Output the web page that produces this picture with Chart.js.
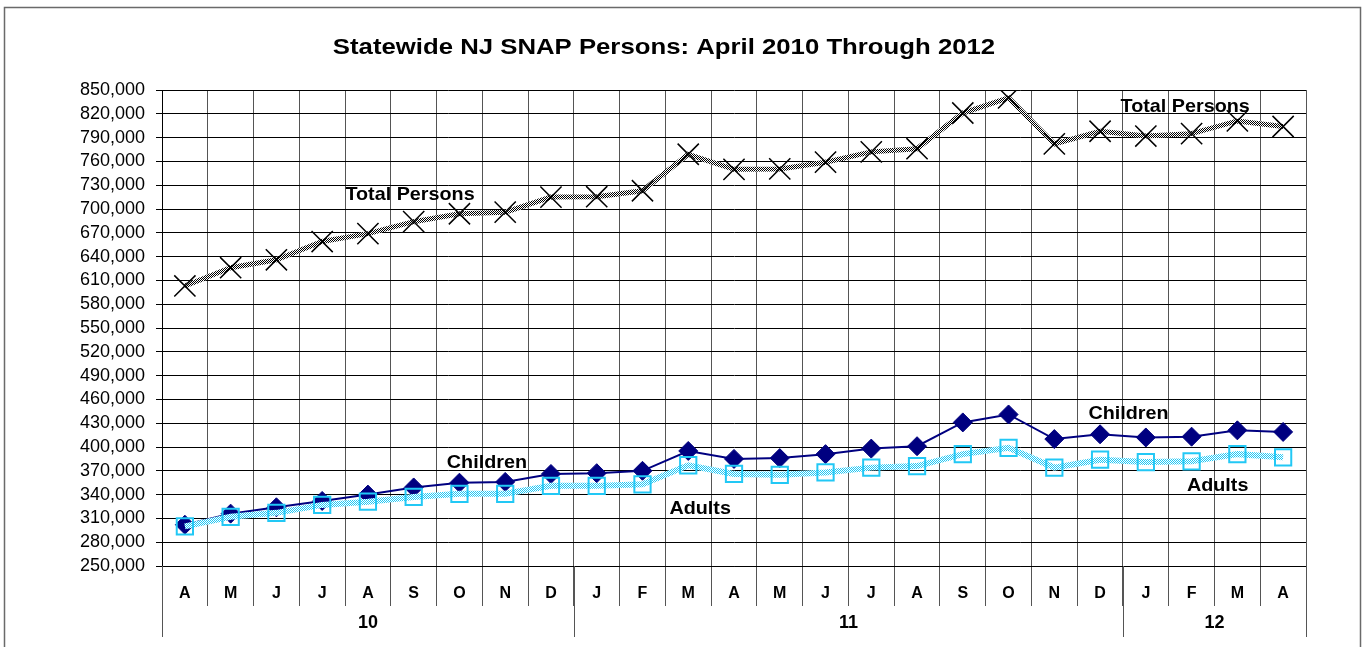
<!DOCTYPE html>
<html>
<head>
<meta charset="utf-8">
<script src="https://cdn.jsdelivr.net/npm/chart.js@4.4.1/dist/chart.umd.min.js"></script>
<style>
  html, body { margin: 0; padding: 0; background: #fff; }
  #wrap { position: relative; width: 1371px; height: 647px; }
</style>
</head>
<body>
<div id="wrap"><canvas id="c" width="1371" height="647"></canvas></div>
<script>
const chartTitle = 'Statewide NJ SNAP Persons: April 2010 Through 2012';
const months = ['A','M','J','J','A','S','O','N','D','J','F','M','A','M','J','J','A','S','O','N','D','J','F','M','A'];
const years = ['10','11','12'];
const yearSpans = [9, 12, 4];
const totalPersons = [603000,626000,636000,659000,669000,684000,694000,696000,715000,715500,723000,769000,750000,750500,759000,772000,776000,821000,840000,782000,798000,792000,795000,811000,804000];
const children = [302000,316000,324000,332000,340000,349000,355000,356000,366000,367000,370000,395000,385000,386000,391000,398000,401000,431000,441000,410000,416000,412000,413000,421000,419000];
const adults = [300000,312000,317000,327000,331000,337000,341000,341000,351000,351000,353000,377000,366000,365000,368000,374000,376000,391000,399000,374000,384000,381000,382000,391000,387000];
const yMin = 250000, yMax = 850000, yStep = 30000;
// series name annotations placed in data coordinates (category index, value)
const annotations = [
  {text: 'Total Persons', at: 4.92, value: 717500},
  {text: 'Total Persons', at: 21.86, value: 828500},
  {text: 'Children', at: 6.6, value: 380000},
  {text: 'Children', at: 20.62, value: 441500},
  {text: 'Adults', at: 11.26, value: 322000},
  {text: 'Adults', at: 22.57, value: 351000}
];

const FONT = "'Liberation Sans', Arial, sans-serif";

function checker(c1, c2) {
  const p = document.createElement('canvas');
  p.width = 2; p.height = 2;
  const g = p.getContext('2d');
  g.fillStyle = c2; g.fillRect(0, 0, 2, 2);
  g.fillStyle = c1; g.fillRect(0, 0, 1, 1); g.fillRect(1, 1, 1, 1);
  return g.createPattern(p, 'repeat');
}
const ctx0 = document.getElementById('c').getContext('2d');
const blackPat = checker('#000000', '#ffffff');
const cyanPat = checker('#22c8f5', '#ffffff');

function stretchedText(c, text, x, y, sx) {
  c.save();
  c.translate(x, y);
  c.scale(sx, 1);
  c.fillText(text, 0, 0);
  c.restore();
}

const decor = {
  id: 'decor',
  beforeDraw(chart) {
    const c = chart.ctx;
    c.save();
    c.fillStyle = '#fff';
    c.fillRect(0, 0, chart.width, chart.height);
    c.strokeStyle = '#6a6a6a';
    c.lineWidth = 1.5;
    c.strokeRect(4.5, 7.5, 1356, 660);
    c.fillStyle = '#000';
    c.font = 'bold 22px ' + FONT;
    c.textAlign = 'center';
    c.textBaseline = 'middle';
    stretchedText(c, chartTitle, 664, 48, 1.17);
    c.restore();
  },
  afterDraw(chart) {
    const c = chart.ctx;
    const xs = chart.scales.x;
    const ys = chart.scales.y;
    const area = chart.chartArea;
    c.save();
    c.strokeStyle = '#555';
    c.lineWidth = 1;
    let start = 0;
    const bounds = [0];
    yearSpans.forEach(s => { start += s; bounds.push(start); });
    bounds.forEach(b => {
      const x = Math.round(xs.getPixelForValue(b - 0.5)) + 0.5;
      c.beginPath(); c.moveTo(x, area.bottom); c.lineTo(x, 637); c.stroke();
    });
    c.fillStyle = '#000';
    c.font = 'bold 18px ' + FONT;
    c.textAlign = 'center';
    c.textBaseline = 'middle';
    years.forEach((y, i) => {
      const a = xs.getPixelForValue(bounds[i] - 0.5);
      const b = xs.getPixelForValue(bounds[i + 1] - 0.5);
      c.fillText(y, (a + b) / 2, 623);
    });
    c.font = 'bold 19px ' + FONT;
    annotations.forEach(l => {
      stretchedText(c, l.text, xs.getPixelForValue(l.at), ys.getPixelForValue(l.value), 1.04);
    });
    c.restore();
  }
};

new Chart(ctx0, {
  type: 'line',
  data: {
    labels: months,
    datasets: [
      {
        label: 'Total Persons', data: totalPersons, order: 2,
        borderColor: blackPat, borderWidth: 5, tension: 0,
        pointStyle: 'crossRot', pointRadius: 15, pointBorderColor: '#000', pointBorderWidth: 1.5,
        pointBackgroundColor: '#000'
      },
      {
        label: 'Children', data: children, order: 1,
        borderColor: '#000080', borderWidth: 2, tension: 0,
        pointStyle: 'rectRot', pointRadius: 9.5, pointBorderColor: '#000080', pointBorderWidth: 1,
        pointBackgroundColor: '#000080'
      },
      {
        label: 'Adults', data: adults, order: 0,
        borderColor: cyanPat, borderWidth: 6, tension: 0,
        pointStyle: 'rect', pointRadius: 11.5, pointBorderColor: '#22c8f5', pointBorderWidth: 2,
        pointBackgroundColor: 'rgba(0,0,0,0)'
      }
    ]
  },
  options: {
    responsive: false,
    animation: false,
    events: [],
    layout: { padding: { left: 0, right: 65, top: 90, bottom: 0 } },
    plugins: { legend: { display: false }, tooltip: { enabled: false }, title: { display: false } },
    scales: {
      x: {
        type: 'category',
        offset: true,
        grid: { offset: true, color: '#555', lineWidth: 1, drawTicks: true, tickLength: 40, tickColor: '#555' },
        border: { display: true, color: '#000', width: 1 },
        ticks: { color: '#000', font: { family: FONT, size: 16, weight: 'bold' }, padding: -22, maxRotation: 0, autoSkip: false },
        afterFit(s) { s.height = 81; }
      },
      y: {
        min: yMin, max: yMax,
        grid: { color: '#000', lineWidth: 1, drawTicks: true, tickLength: 6, tickColor: '#000' },
        border: { display: true, color: '#000', width: 1 },
        ticks: {
          stepSize: yStep, color: '#000', padding: 11, autoSkip: false,
          font: { family: FONT, size: 18 },
          callback: v => v.toLocaleString('en-US')
        },
        afterFit(s) { s.width = 162; }
      }
    }
  },
  plugins: [decor]
});
</script>
</body>
</html>
